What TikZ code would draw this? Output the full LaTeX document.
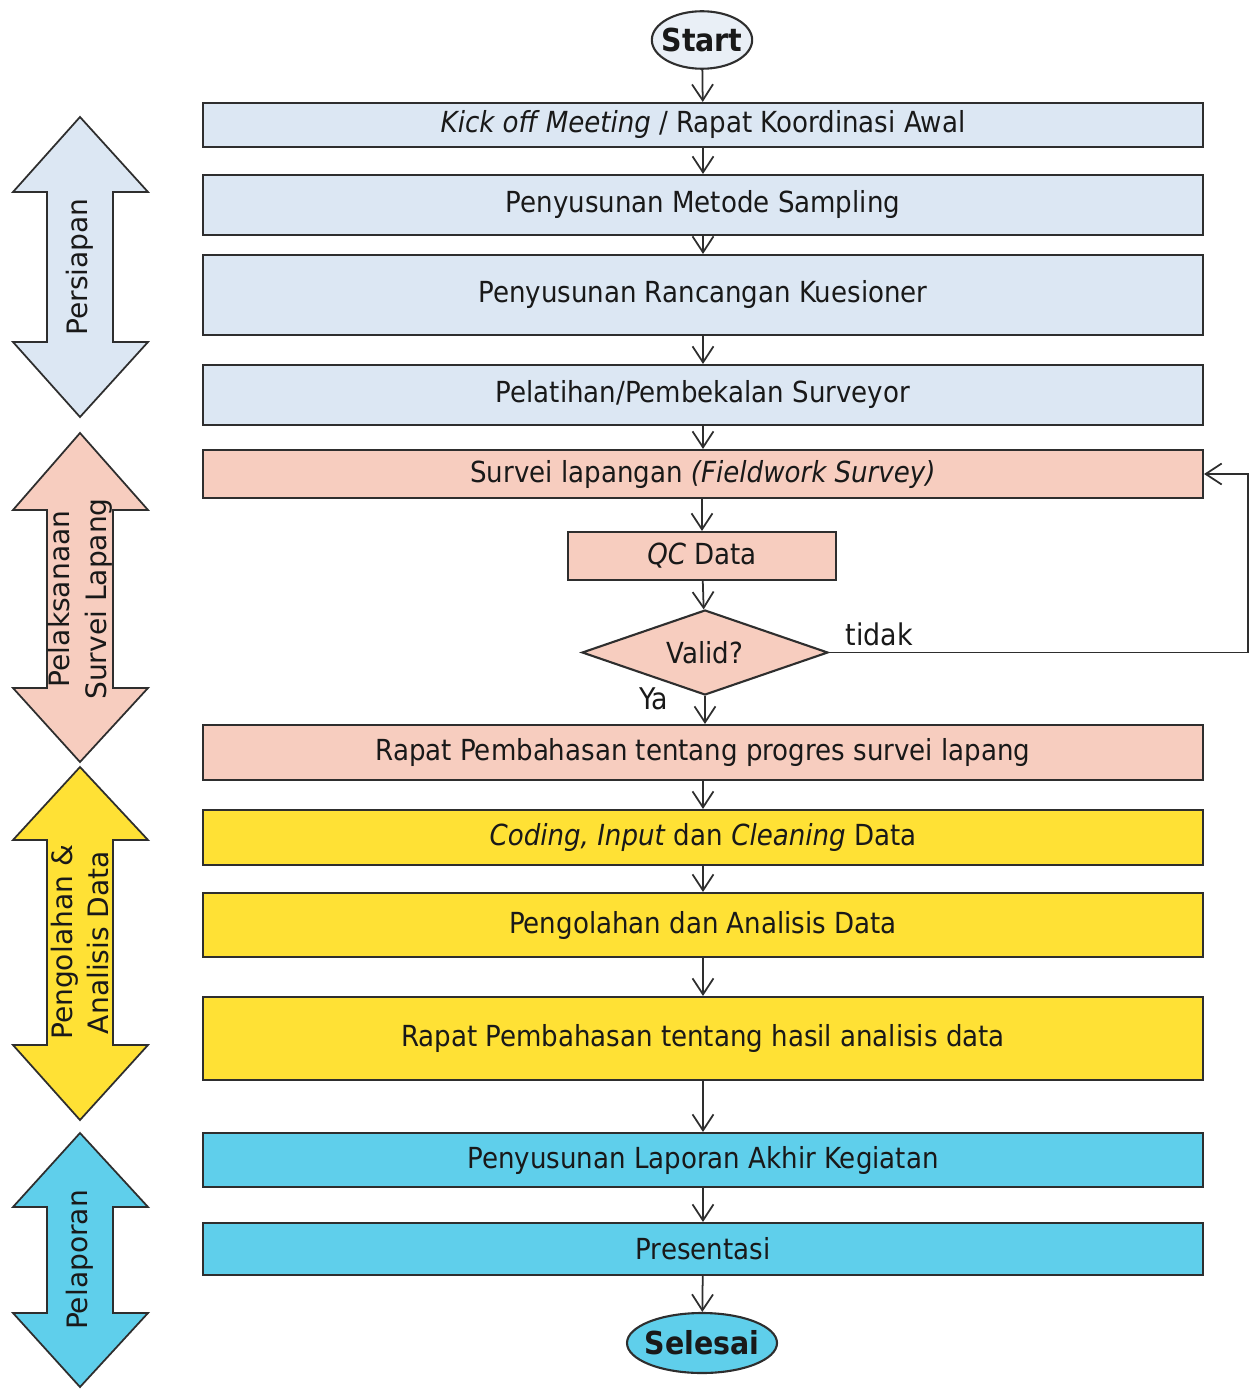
\documentclass[tikz,border=0pt]{standalone}
\usepackage{fontspec}
\setmainfont{DejaVu Sans Condensed}
\newfontfamily\widefont{DejaVu Sans}
\usetikzlibrary{shapes.geometric}
\usetikzlibrary{arrows.meta}

\definecolor{boxblue}{HTML}{DCE7F3}
\definecolor{boxpink}{HTML}{F7CDBF}
\definecolor{boxyellow}{HTML}{FFE135}
\definecolor{boxcyan}{HTML}{5FCFEB}
\definecolor{startfill}{HTML}{E9EFF6}
\definecolor{linegray}{HTML}{2E2E2E}

\tikzset{
    stage/.style={draw=linegray, line width=1.2pt, minimum width=20cm, font=\fontsize{16.5}{20}\selectfont, text=black!90},
    terminal/.style={draw=linegray, line width=1.2pt, ellipse, inner xsep=-0.1cm, inner ysep=0pt, font=\fontsize{18}{20}\selectfont\bfseries, text=black!90},
    flow/.style={->, >={Straight Barb[length=3.2mm, width=4.2mm]}, draw=linegray, line width=1pt},
    phase/.style={draw=linegray, line width=1pt},
    phaselabel/.style={rotate=90, align=center, font=\widefont\fontsize{16}{21}\selectfont, text=black!90}
}

\begin{document}
\begin{tikzpicture}
    \useasboundingbox (0,0) rectangle (25.02,-27.78);

    % phase arrows on the left
    \foreach \yt/\ya/\yb/\yd/\col/\txt [count=\i] in {
        -2.34/-3.84/-6.84/-8.34/boxblue/{Persiapan},
        -8.66/-10.20/-13.76/-15.24/boxpink/{Pelaksanaan\\Survei Lapang},
        -15.34/-16.80/-20.90/-22.40/boxyellow/{Pengolahan \&\\Analisis Data},
        -22.66/-24.14/-26.26/-27.74/boxcyan/{Pelaporan}}{
        \filldraw[phase, fill=\col] (1.6,\yt) -- (2.96,\ya) -- (2.26,\ya) -- (2.26,\yb) -- (2.96,\yb) -- (1.6,\yd)
            -- (0.26,\yb) -- (0.94,\yb) -- (0.94,\ya) -- (0.26,\ya) -- cycle;
        \node[phaselabel] (phase\i) at (1.6,{(\ya+\yb)/2}) {\txt};
    }

    % flow steps
    \node[terminal, fill=startfill, minimum width=1.9cm, minimum height=1.15cm] (start) at (14.04,-0.80) {Start};
    \node[stage, fill=boxblue, minimum height=0.88cm] (kickoff) at (14.06,-2.50) {\textit{Kick off Meeting} / Rapat Koordinasi Awal};
    \node[stage, fill=boxblue, minimum height=1.2cm] (metode) at (14.06,-4.10) {Penyusunan Metode Sampling};
    \node[stage, fill=boxblue, minimum height=1.6cm] (kuesioner) at (14.06,-5.90) {Penyusunan Rancangan Kuesioner};
    \node[stage, fill=boxblue, minimum height=1.2cm] (pelatihan) at (14.06,-7.90) {Pelatihan/Pembekalan Surveyor};
    \node[stage, fill=boxpink, minimum height=0.96cm] (survei) at (14.06,-9.48) {Survei lapangan \textit{(Fieldwork Survey)}};
    \node[stage, fill=boxpink, minimum width=5.36cm, minimum height=0.96cm] (qc) at (14.04,-11.12) {\textit{QC} Data};
    \node[stage, fill=boxpink, diamond, aspect=2.9, inner sep=0pt, minimum width=4.92cm, minimum height=1.7cm] (valid) at (14.10,-13.05) {Valid?};
    \node[stage, fill=boxpink, minimum height=1.1cm] (progres) at (14.06,-15.05) {Rapat Pembahasan tentang progres survei lapang};
    \node[stage, fill=boxyellow, minimum height=1.1cm] (coding) at (14.06,-16.75) {\textit{Coding, Input} dan \textit{Cleaning} Data};
    \node[stage, fill=boxyellow, minimum height=1.28cm] (olah) at (14.06,-18.50) {Pengolahan dan Analisis Data};
    \node[stage, fill=boxyellow, minimum height=1.66cm] (hasil) at (14.06,-20.77) {Rapat Pembahasan tentang hasil analisis data};
    \node[stage, fill=boxcyan, minimum height=1.08cm] (laporan) at (14.06,-23.20) {Penyusunan Laporan Akhir Kegiatan};
    \node[stage, fill=boxcyan, minimum height=1.04cm] (presentasi) at (14.06,-24.98) {Presentasi};
    \node[terminal, fill=boxcyan, minimum width=3.0cm, minimum height=1.2cm] (selesai) at (14.04,-26.86) {Selesai};

    % connectors
    \draw[flow] (start) -- (kickoff);
    \draw[flow] (kickoff) -- (metode);
    \draw[flow] (metode) -- (kuesioner);
    \draw[flow] (kuesioner) -- (pelatihan);
    \draw[flow] (pelatihan) -- (survei);
    \draw[flow] (survei.south -| qc.north) -- (qc);
    \draw[flow] (qc) -- (valid);
    \draw[flow] (valid.south) -- (valid.south |- progres.north) node[pos=0.1, left, xshift=-0.6cm, font=\fontsize{17}{20}\selectfont, text=black!90] (ya) {Ya};
    \coordinate (loop) at (24.96,-13.05);
    \draw[flow] (valid.east) -- node[pos=0.12, above, font=\fontsize{17}{20}\selectfont, text=black!90] (tidak) {tidak} (loop) |- (survei.east);
    \draw[flow] (progres) -- (coding);
    \draw[flow] (coding) -- (olah);
    \draw[flow] (olah) -- (hasil);
    \draw[flow] (hasil) -- (laporan);
    \draw[flow] (laporan) -- (presentasi);
    \draw[flow] (presentasi) -- (selesai);
\end{tikzpicture}
\end{document}
